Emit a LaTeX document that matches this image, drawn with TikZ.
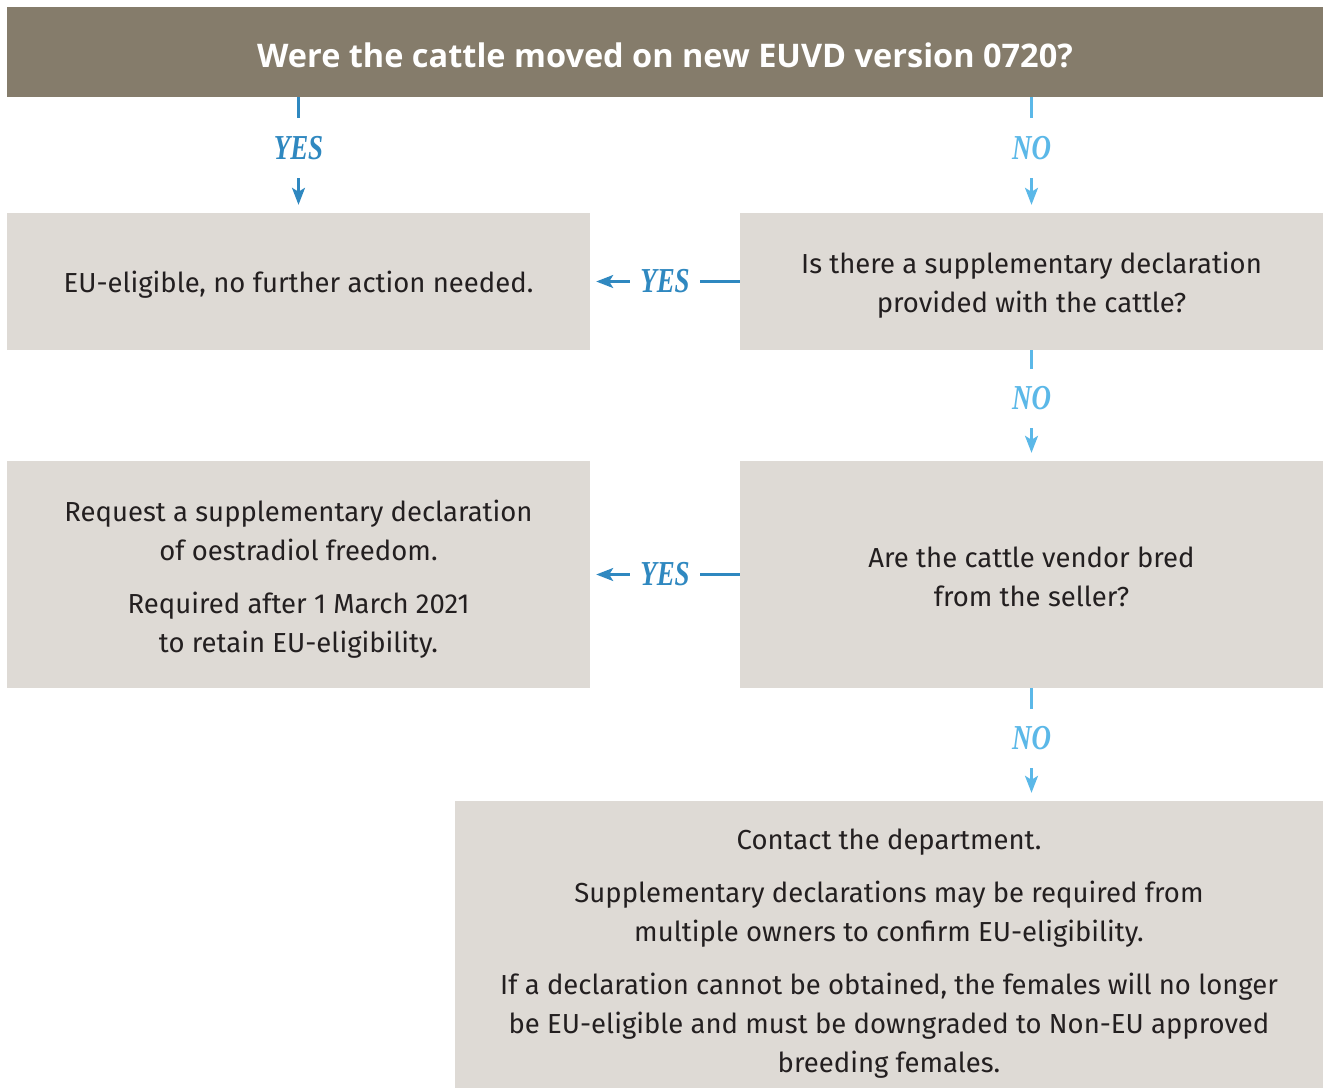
\documentclass[tikz,border=0pt]{standalone}
\usepackage{fontspec}
\setmainfont{Fira Sans}
\newfontfamily\hdrfont{Open Sans}
\newfontfamily\lblfont[FakeStretch=0.77]{Liberation Serif}
\usetikzlibrary{arrows.meta}
\definecolor{hdr}{HTML}{857C6B}
\definecolor{boxfill}{HTML}{DEDAD5}
\definecolor{txt}{HTML}{231F20}
\definecolor{yescol}{HTML}{2F88C0}
\definecolor{nocol}{HTML}{5BB8E8}
\tikzset{
  bodytext/.style={align=center, text=txt, inner sep=0pt, font=\fontsize{27.5}{39}\selectfont},
  box/.style={fill=boxfill, draw=none, minimum width=583pt, minimum height=137pt, inner sep=0pt},
  conn/.style={line width=2.4pt, -{Stealth[length=17pt,width=13pt,inset=4pt]}},
  yesconn/.style={conn, draw=yescol},
  noconn/.style={conn, draw=nocol},
  lbl/.style={fill=white, inner xsep=10pt, inner ysep=18pt, font=\lblfont\bfseries\itshape\fontsize{35}{35}\selectfont},
}
\begin{document}
\begin{tikzpicture}[x=1pt,y=-1pt]
\useasboundingbox (0,0) rectangle (1324,1088);
\node[fill=hdr, minimum width=1316pt, minimum height=90pt, inner sep=0pt] (hd) at (665,52) {};
\node[inner sep=0pt, text=white, font=\hdrfont\bfseries\fontsize{32.5}{32.5}\selectfont] (hdt) at ([yshift=-3pt]hd.center) {Were the cattle moved on new EUVD version 0720?};
\node[box] (a) at (298.5,281.5) {};
\node[box] (b) at (1031.5,281.5) {};
\node[box, minimum height=227pt] (c) at (298.5,574.5) {};
\node[box, minimum height=227pt] (d) at (1031.5,574.5) {};
\node[box, minimum width=868pt, minimum height=287pt] (e) at (889,944.5) {};
\node[bodytext] (at) at ([yshift=-3.5pt]a.center) {EU-eligible, no further action needed.};
\node[bodytext] (bt) at ([yshift=-4pt]b.center) {Is there a supplementary declaration\\provided with the cattle?};
\node[bodytext] (ct) at ([yshift=-4.5pt]c.center) {Request a supplementary declaration\\of oestradiol freedom.\\[14pt]Required after 1 March 2021\\to retain EU-eligibility.};
\node[bodytext] (dt) at ([yshift=-2.5pt]d.center) {Are the cattle vendor bred\\from the seller?};
\node[bodytext] (et) at ([yshift=-9.5pt]e.center) {Contact the department.\\[14pt]Supplementary declarations may be required from\\multiple owners to confirm EU-eligibility.\\[14pt]If a declaration cannot be obtained, the females will no longer\\be EU-eligible and must be downgraded to Non-EU approved\\breeding females.};
\draw[yesconn, shorten >=8pt] (hd.south -| a.north) -- node[lbl, text=yescol, yshift=7pt] {YES} (a.north);
\draw[noconn, shorten >=8pt] (hd.south -| b.north) -- node[lbl, text=nocol, yshift=7pt] {NO} (b.north);
\draw[yesconn, shorten >=6pt] (b.west) -- node[lbl, text=yescol] {YES} (a.east);
\draw[noconn, shorten >=8pt] (b.south) -- node[lbl, text=nocol, yshift=7pt] {NO} (d.north);
\draw[yesconn, shorten >=6pt] (d.west) -- node[lbl, text=yescol] {YES} (c.east);
\draw[noconn, shorten >=8pt] (d.south) -- node[lbl, text=nocol, yshift=6pt] {NO} (d.south |- e.north);
\end{tikzpicture}
\end{document}
